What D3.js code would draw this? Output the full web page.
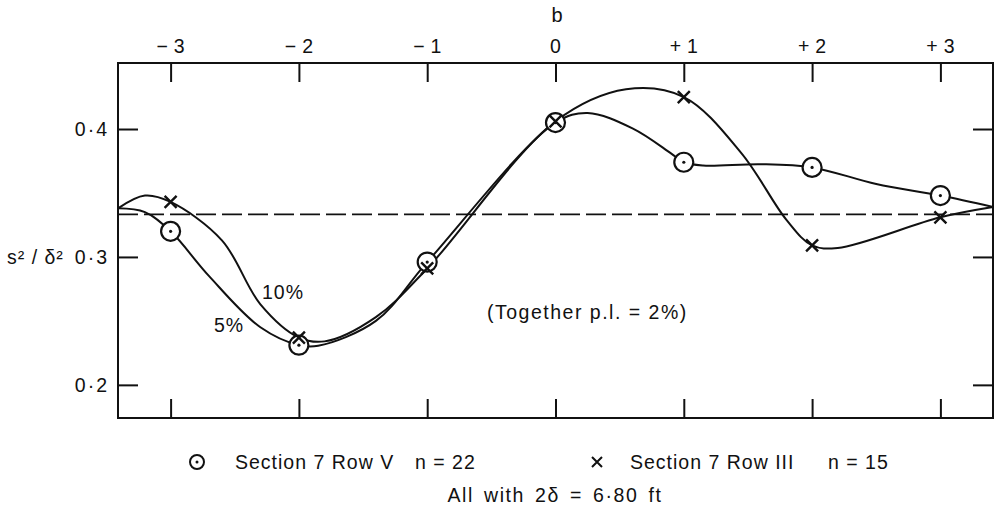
<!DOCTYPE html>
<html>
<head>
<meta charset="utf-8">
<script src="https://cdn.jsdelivr.net/npm/d3@7"></script>
<style>
  body { margin: 0; background: #fff; }
  svg { display: block; font-family: "Liberation Sans", Arial, sans-serif; font-size: 19.5px; letter-spacing: 1px; fill: #111; }
  .axis text { font-size: 19.5px; fill: #111; }
  .axis line { stroke: #111; stroke-width: 2; }
</style>
</head>
<body>
<svg id="chart"></svg>
<script>
// b values and tick labels
const bValues = [-3, -2, -1, 0, 1, 2, 3];
const bLabels = ["\u2212\u20093", "\u2212\u20092", "\u2212\u20091", "0", "+\u20091", "+\u20092", "+\u20093"];
const yTicks = [0.2, 0.3, 0.4];
const yLabels = ["0\u00b72", "0\u00b73", "0\u00b74"];

// plotted points
const rowV = [0.320, 0.231, 0.296, 0.405, 0.374, 0.370, 0.348];   // Section 7 Row V
const rowIII = [0.343, 0.237, 0.291, 0.406, 0.425, 0.309, 0.331]; // Section 7 Row III

// hand drawn curves as [b, s2/d2]
const rowVCurve = [[-3.41, 0.338], [-3.2, 0.335], [-3, 0.320], [-2.7, 0.285], [-2.3, 0.245],
  [-2, 0.231], [-1.85, 0.2305], [-1.4, 0.250], [-1, 0.296], [0, 0.405], [0.25, 0.4125],
  [0.6, 0.4005], [0.9, 0.381], [1, 0.374], [1.15, 0.3715], [1.6, 0.3725], [2, 0.370],
  [2.5, 0.357], [3, 0.348], [3.41, 0.339]];
const rowIIICurve = [[-3.41, 0.338], [-3.2, 0.348], [-3, 0.343], [-2.6, 0.313], [-2.3, 0.263],
  [-2, 0.237], [-1.8, 0.234], [-1.4, 0.253], [-1, 0.291], [0, 0.406], [0.55, 0.431],
  [1, 0.425], [1.45, 0.381], [1.8, 0.329], [2, 0.309], [2.2, 0.307], [3, 0.331], [3.41, 0.339]];

const refLevel = 1 / 3;

const margin = { top: 63, right: 1, bottom: 94, left: 118 },
    width = 994 - margin.left - margin.right,
    height = 512 - margin.top - margin.bottom;

const svg = d3.select("#chart")
    .attr("width", 994)
    .attr("height", 512)
  .append("g")
    .attr("transform", `translate(${margin.left},${margin.top})`);

const x = d3.scaleLinear().domain([-3.41, 3.41]).range([0, width]);
const y = d3.scaleLinear().domain([0.1741, 0.4516]).range([height, 0]);

// frame
svg.append("rect")
    .attr("width", width)
    .attr("height", height)
    .attr("fill", "none")
    .attr("stroke", "#111")
    .attr("stroke-width", 2);

// top axis with labels, ticks pointing inward
svg.append("g").attr("class", "axis")
    .call(d3.axisTop(x).tickValues(bValues).tickSizeInner(-19).tickSizeOuter(0).tickPadding(10)
      .tickFormat((d, i) => bLabels[i]))
    .call(g => g.select(".domain").remove());

svg.append("g").attr("class", "axis")
    .attr("transform", `translate(0,${height})`)
    .call(d3.axisBottom(x).tickValues(bValues).tickSizeInner(-19).tickSizeOuter(0).tickFormat(""))
    .call(g => g.select(".domain").remove());

svg.append("g").attr("class", "axis")
    .call(d3.axisLeft(y).tickValues(yTicks).tickSizeInner(-20).tickSizeOuter(0).tickPadding(9)
      .tickFormat((d, i) => yLabels[i]))
    .call(g => g.selectAll("text").style("letter-spacing", "2px"))
    .call(g => g.select(".domain").remove());

svg.append("g").attr("class", "axis")
    .attr("transform", `translate(${width},0)`)
    .call(d3.axisRight(y).tickValues(yTicks).tickSizeInner(-20).tickSizeOuter(0).tickFormat(""))
    .call(g => g.select(".domain").remove());

// axis titles
svg.append("text")
    .attr("x", x(0) + 2)
    .attr("y", -41)
    .attr("text-anchor", "middle")
    .style("font-size", "20px")
    .text("b");

svg.append("text")
    .attr("x", 7 - margin.left)
    .attr("y", y(0.3) + 7)
    .text("s\u00b2 / \u03b4\u00b2");

// dashed reference line
svg.append("line")
    .attr("x1", 0).attr("x2", width)
    .attr("y1", y(refLevel)).attr("y2", y(refLevel))
    .attr("stroke", "#111")
    .attr("stroke-width", 1.8)
    .attr("stroke-dasharray", "20,6");

// curves
const line = d3.line()
    .x(d => x(d[0]))
    .y(d => y(d[1]))
    .curve(d3.curveCatmullRom.alpha(0.5));

[rowIIICurve, rowVCurve].forEach(c => {
  svg.append("path")
      .datum(c)
      .attr("d", line)
      .attr("fill", "none")
      .attr("stroke", "#111")
      .attr("stroke-width", 2);
});

// circle markers
const circ = svg.selectAll(".pt-v")
    .data(rowV)
    .enter().append("g")
    .attr("class", "pt-v")
    .attr("transform", (d, i) => `translate(${x(bValues[i])},${y(d)})`);
circ.append("circle").attr("r", 9.5).attr("fill", "#fff").attr("stroke", "#111").attr("stroke-width", 2.2);
circ.append("circle").attr("r", 1.6).attr("fill", "#111");

// cross markers
svg.selectAll(".pt-iii")
    .data(rowIII)
    .enter().append("path")
    .attr("class", "pt-iii")
    .attr("transform", (d, i) => `translate(${x(bValues[i])},${y(d)})`)
    .attr("d", "M-6,-6L6,6M-6,6L6,-6")
    .attr("stroke", "#111")
    .attr("stroke-width", 2.4);

// annotations
svg.append("text").attr("x", 262 - margin.left).attr("y", 299 - margin.top).text("10%");
svg.append("text").attr("x", 214 - margin.left).attr("y", 332 - margin.top).text("5%");
svg.append("text").attr("x", 487 - margin.left).attr("y", 319 - margin.top)
    .style("letter-spacing", "1.5px")
    .text("(Together p.l. = 2%)");

// legend
const legY = 462 - margin.top;
const leg = svg.append("g");
const lc = leg.append("g").attr("transform", `translate(${197 - margin.left},${legY})`);
lc.append("circle").attr("r", 7).attr("fill", "none").attr("stroke", "#111").attr("stroke-width", 2);
lc.append("circle").attr("r", 1.5).attr("fill", "#111");
leg.append("text").attr("x", 235 - margin.left).attr("y", legY + 7).text("Section 7 Row V");
leg.append("text").attr("x", 415 - margin.left).attr("y", legY + 7).text("n = 22");
leg.append("path")
    .attr("transform", `translate(${597 - margin.left},${legY})`)
    .attr("d", "M-5,-5L5,5M-5,5L5,-5")
    .attr("stroke", "#111").attr("stroke-width", 2);
leg.append("text").attr("x", 630 - margin.left).attr("y", legY + 7).text("Section 7 Row III");
leg.append("text").attr("x", 828 - margin.left).attr("y", legY + 7).text("n = 15");

svg.append("text")
    .attr("x", 555 - margin.left)
    .attr("y", 502 - margin.top)
    .attr("text-anchor", "middle")
    .style("letter-spacing", "1.6px")
    .style("word-spacing", "3px")
    .text("All with 2\u03b4 = 6\u00b780 ft");
</script>
</body>
</html>
